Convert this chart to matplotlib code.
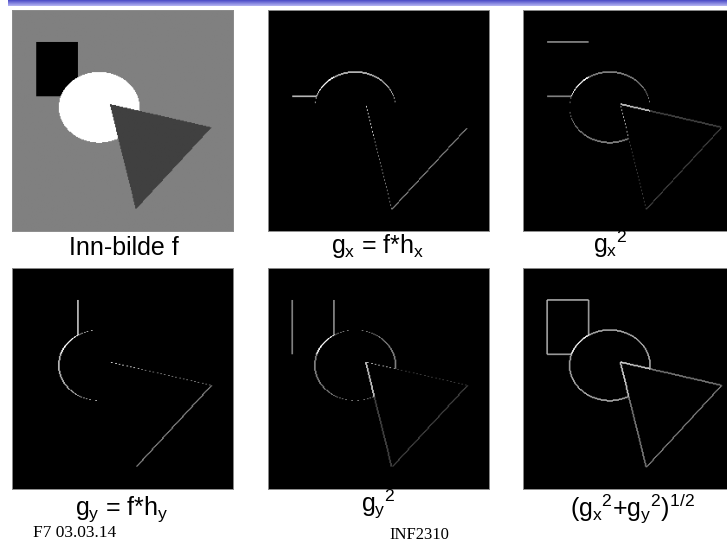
import numpy as np
import matplotlib
matplotlib.use("Agg")
import matplotlib.pyplot as plt
from matplotlib.colors import PowerNorm, LinearSegmentedColormap

plt.rcParams['font.family'] = ['Liberation Sans', 'DejaVu Sans']
plt.rcParams['mathtext.fontset'] = 'custom'
plt.rcParams['mathtext.rm'] = 'Liberation Sans'
plt.rcParams['mathtext.it'] = 'Liberation Sans'
plt.rcParams['mathtext.bf'] = 'Liberation Sans:bold'

# ---- data: the synthetic input image (256 x 256 pixels) ----
image_size = 256
background_level = 128
rect_cols = [28, 76]          # left, right column
rect_rows = [37, 100]         # top, bottom row
rect_level = 0
ellipse_center = [100.6, 112.7]   # col, row
ellipse_radii = [46.6, 40.9]      # col radius, row radius
ellipse_level = 255
triangle_cols = [112.7, 230.2, 142.8]
triangle_rows = [108.9, 135.9, 230.9]
triangle_level = 64

panel_labels = ["Inn-bilde f", r"$g_x$ = f*h$_x$", r"$g_x{}^2$",
                r"$g_y$ = f*h$_y$", r"$g_y{}^2$", r"($g_x{}^2$+$g_y{}^2$)$^{1/2}$"]
footer_left = "F7 03.03.14"
footer_center = "INF2310"

# ---- build image ----
rr, cc = np.mgrid[0:image_size, 0:image_size] + 0.5
f = np.full((image_size, image_size), float(background_level))
f[(cc >= rect_cols[0]) & (cc < rect_cols[1]) & (rr >= rect_rows[0]) & (rr < rect_rows[1])] = rect_level
ell = ((cc - ellipse_center[0]) / ellipse_radii[0]) ** 2 + ((rr - ellipse_center[1]) / ellipse_radii[1]) ** 2 <= 1
f[ell] = ellipse_level

def inside_triangle(x, y, xs, ys):
    def side(x1, y1, x2, y2):
        return (x - x2) * (y1 - y2) - (x1 - x2) * (y - y2)
    d1 = side(xs[0], ys[0], xs[1], ys[1])
    d2 = side(xs[1], ys[1], xs[2], ys[2])
    d3 = side(xs[2], ys[2], xs[0], ys[0])
    neg = (d1 < 0) | (d2 < 0) | (d3 < 0)
    pos = (d1 > 0) | (d2 > 0) | (d3 > 0)
    return ~(neg & pos)

f[inside_triangle(cc, rr, triangle_cols, triangle_rows)] = triangle_level

# gradients (h = [-1 0 1]): x = row direction, y = column direction
gx = np.zeros_like(f)
gy = np.zeros_like(f)
gx[1:-1, :] = f[2:, :] - f[:-2, :]
gy[:, 1:-1] = f[:, 2:] - f[:, :-2]

gx_pos = np.clip(gx, 0, None)
gy_pos = np.clip(gy, 0, None)
gx2 = gx ** 2
gy2 = gy ** 2
mag = np.sqrt(gx2 + gy2)

W, H = 727, 544
fig = plt.figure(figsize=(W / 100, H / 100), dpi=100)
fig.patch.set_facecolor('white')

def px_axes(x0, y0, w, h):
    return fig.add_axes([x0 / W, 1 - (y0 + h) / H, w / W, h / H])

# top banner
bar = px_axes(8, 0, 719, 6)
bar_cmap = LinearSegmentedColormap.from_list('bar', ['#4a4ac6', '#b4b4f2'])
bar.imshow(np.linspace(0, 1, 20).reshape(-1, 1), cmap=bar_cmap, aspect='auto')
bar.axis('off')

panels = [
    (12, 10, f, None),
    (268, 10, gx_pos, 'g'),
    (523, 10, gx2, 'g'),
    (12, 268, gy_pos, 'g'),
    (268, 268, gy2, 'g'),
    (523, 268, mag, 'g'),
]
label_pos = [(124, 255), (378, 253), (610, 253), (122, 515), (378, 512), (633, 516)]

for (x0, y0, img, kind), lbl, (lx, ly) in zip(panels, panel_labels, label_pos):
    ax = px_axes(x0, y0, 221, 221)
    if kind is None:
        ax.imshow(img, cmap='gray', vmin=0, vmax=255)
    else:
        ax.imshow(img, cmap='gray', norm=PowerNorm(gamma=0.5, vmin=0, vmax=img.max()))
    ax.set_xticks([])
    ax.set_yticks([])
    for s in ax.spines.values():
        s.set_color('#8c8c8c')
        s.set_linewidth(0.7)
    fig.text(lx / W, 1 - ly / H, lbl, ha='center', va='baseline', fontsize=18, color='black')

fig.text(33 / W, 1 - 537 / H, footer_left, ha='left', va='baseline', fontsize=12.5,
         family=['Liberation Serif', 'DejaVu Serif'])
fig.text(419 / W, 1 - 539 / H, footer_center, ha='center', va='baseline', fontsize=12,
         family=['Liberation Serif', 'DejaVu Serif'])

fig.savefig('out.png', dpi=100)
